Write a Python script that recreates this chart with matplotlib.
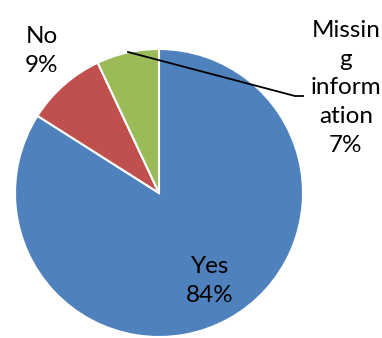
import matplotlib
matplotlib.use("Agg")
import matplotlib.pyplot as plt

categories = ["Yes", "No", "Missing information"]
values = [84, 9, 7]
labels = ["Yes\n84%", "No\n9%", "Missin\ng\ninform\nation\n7%"]
colors = ["#4F81BD", "#C0504D", "#9BBB59"]

W, H = 382, 338
fig = plt.figure(figsize=(W / 100, H / 100), dpi=100)
ax = fig.add_axes([0, 0, 1, 1])
cx, cy, r = 159, H - 193, 144
ax.pie(values, colors=colors, startangle=90, counterclock=False,
       center=(cx, cy), radius=r,
       wedgeprops=dict(edgecolor="white", linewidth=1.5))
ax.set_xlim(0, W)
ax.set_ylim(0, H)
ax.set_aspect("equal")
ax.axis("off")

font = dict(family="Lato", fontsize=17.5, color="black", ha="center",
            va="center", linespacing=1.45)
ax.text(210, H - 281, labels[0], **font)
ax.text(42, H - 51, labels[1], **font)
ax.text(346, H - 88, labels[2], **font)

ax.plot([128, 295, 303], [H - 52, H - 96, H - 96], color="black", lw=1.3)

fig.savefig("out.png", dpi=100)
